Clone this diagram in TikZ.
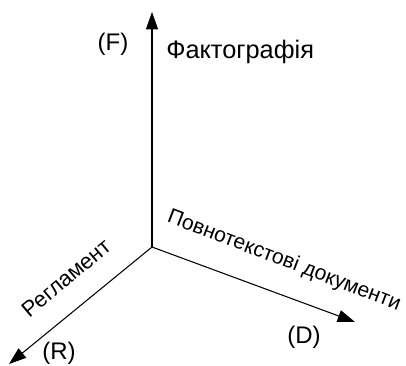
\documentclass[tikz,border=0pt]{standalone}
\usepackage{fontspec}
\setmainfont{Liberation Sans}
\usetikzlibrary{arrows.meta}

\tikzset{
  axis/.style={line width=0.8pt, -{Triangle[length=13pt, width=9pt]}},
  axname/.style={font=\fontsize{16.5}{19}\selectfont, inner sep=0pt},
  axletter/.style={font=\fontsize{18}{20}\selectfont, inner sep=0pt}
}

\begin{document}
\begin{tikzpicture}[x=0.75pt, y=-0.75pt]
\useasboundingbox (0,0) rectangle (406,365);
% axes
\coordinate (origin) at (152,247);
\coordinate (ftip) at (152,12);
\coordinate (dtip) at (355,322);
\coordinate (rtip) at (9,364);
\draw[axis] (origin) -- (ftip);
\draw[axis] (origin) -- (dtip);
\draw[axis] (origin) -- (rtip);
% labels
\node[axletter] (flabel) at (113,44) {(F)};
\node[axname, font=\fontsize{19}{21}\selectfont, anchor=west] (fname) at (166,52) {Фактографія};
\node[axname, font=\fontsize{15.8}{18}\selectfont, rotate=-21] (dname) at (284,261) {Повнотекстові документи};
\node[axletter] (dlabel) at (304,337) {(D)};
\node[axname, rotate=40] (rname) at (66,278) {Регламент};
\node[axletter] (rlabel) at (59,353) {(R)};
\end{tikzpicture}
\end{document}
